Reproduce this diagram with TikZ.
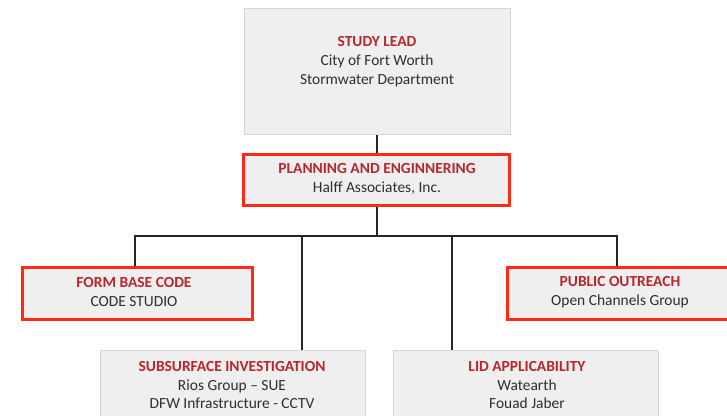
\documentclass[tikz,border=0pt]{standalone}
\usepackage{fontspec}
\setmainfont{Carlito}
\definecolor{boxfill}{HTML}{EFEFEF}
\definecolor{boxline}{HTML}{D6D6D6}
\definecolor{redline}{HTML}{FF2A14}
\definecolor{titlered}{HTML}{B8262E}
\definecolor{bodytext}{HTML}{2E2E2E}
\begin{document}
\begin{tikzpicture}[x=1bp,y=-1bp,
  plainbox/.style={draw=boxline,line width=0.8bp,fill=boxfill,anchor=north west,inner sep=0pt},
  redbox/.style={draw=redline,line width=3bp,fill=boxfill,anchor=north west,inner sep=0pt},
  txt/.style={align=center,font=\fontsize{15.5}{19}\selectfont,text=bodytext,inner sep=0pt},
  conn/.style={draw=black!85,line width=2bp}]
\useasboundingbox (0,0) rectangle (727,415);
\begin{scope}
\clip (0,0) rectangle (727,415);
% boxes
\node[plainbox,minimum width=266bp,minimum height=126bp] (lead) at (244,8) {};
\node[redbox,minimum width=266bp,minimum height=51bp] (plan) at (242,153) {};
\node[redbox,minimum width=230bp,minimum height=52bp] (form) at (21,266) {};
\node[redbox,minimum width=232bp,minimum height=52bp] (pub) at (506,266) {};
\node[plainbox,minimum width=265bp,minimum height=80bp] (sub) at (100,350) {};
\node[plainbox,minimum width=265bp,minimum height=80bp] (lid) at (393,350) {};
% texts
\node[txt] (leadt) at (377,62) {\textcolor{titlered}{\textbf{STUDY LEAD}}\\City of Fort Worth\\Stormwater Department};
\node[txt] (plant) at (377,179) {\textcolor{titlered}{\textbf{PLANNING AND ENGINNERING}}\\Halff Associates, Inc.};
\node[txt] (formt) at (134,292) {\textcolor{titlered}{\textbf{FORM BASE CODE}}\\CODE STUDIO};
\node[txt] (pubt) at (620,292) {\textcolor{titlered}{\textbf{PUBLIC OUTREACH}}\\Open Channels Group};
\node[txt] (subt) at (232,385) {\textcolor{titlered}{\textbf{SUBSURFACE INVESTIGATION}}\\Rios Group -- SUE\\DFW Infrastructure - CCTV};
\node[txt] (lidt) at (527,385) {\textcolor{titlered}{\textbf{LID APPLICABILITY}}\\Watearth\\Fouad Jaber};
% connectors
\coordinate (bus) at (377,236);
\draw[conn] (lead.south -| bus) -- (plan.north -| bus);
\draw[conn] (plan.south -| bus) -- (bus);
\draw[conn] (form.north -| 135,0) |- (bus) -| (pub.north -| 617,0);
\draw[conn] (sub.north -| 302,0) -- (302,236);
\draw[conn] (lid.north -| 452,0) -- (452,236);
\end{scope}
\end{tikzpicture}
\end{document}
